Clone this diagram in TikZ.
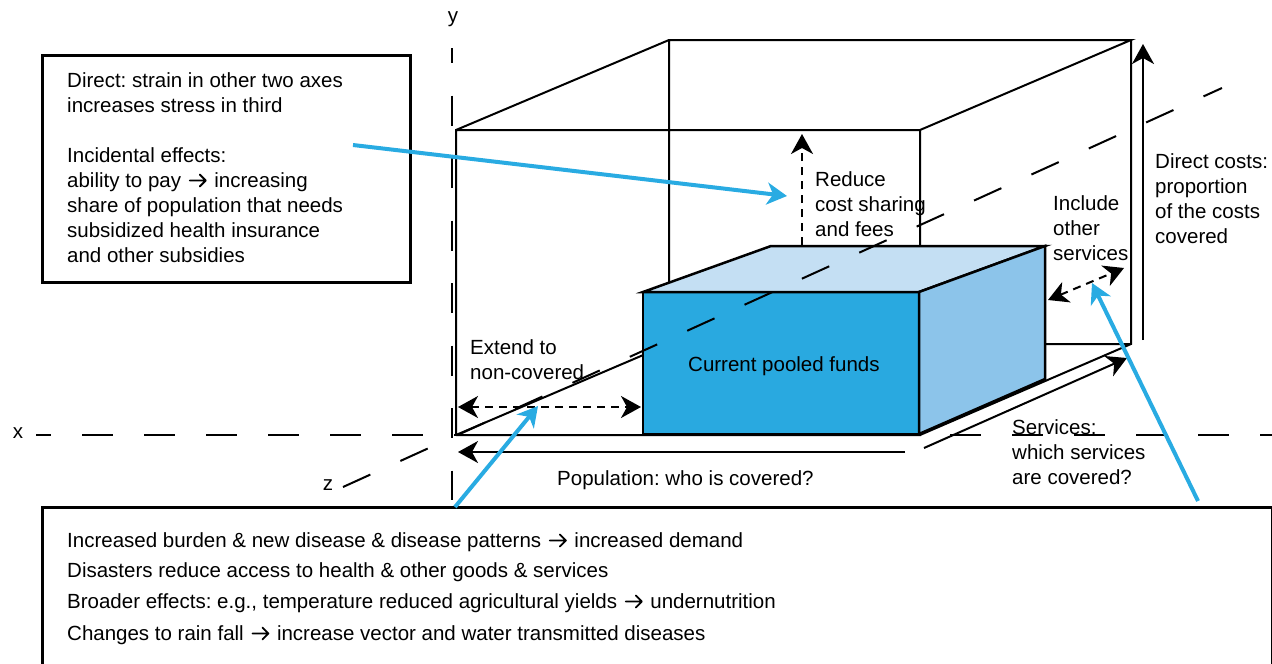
\documentclass[tikz,border=0pt]{standalone}
\usepackage{fontspec}
\setmainfont{Liberation Sans}
\usetikzlibrary{arrows.meta}
\definecolor{fundfront}{HTML}{29A9E0}
\definecolor{fundtop}{HTML}{C4DFF3}
\definecolor{fundside}{HTML}{8CC4EA}
\definecolor{callout}{HTML}{29ABE2}
\frenchspacing
% open-headed arrow used inside the running text
\newcommand{\leadsarrow}{\hspace{2pt}\tikz[baseline=0pt, x=1pt, y=1pt]
  \draw[line width=1.8pt, line cap=round, line join=round]
  (0,6.5) -- (16,6.5) (10,0.5) -- (16,6.5) -- (10,12.5);\hspace{2pt}}
\begin{document}
\begin{tikzpicture}[x=1pt,y=-1pt,
  every node/.style={font=\fontsize{20.5}{25}\selectfont, inner sep=0pt},
  lbl/.style={anchor=base west},
  axlbl/.style={anchor=base},
  frame/.style={draw, line width=2pt},
  panel/.style={draw, line width=2.5pt},
  axisline/.style={line width=2pt, dash pattern=on 31pt off 31pt},
  head/.style={-{Stealth[length=20pt,width=22pt,inset=6pt]}},
  bothheads/.style={{Stealth[length=20pt,width=22pt,inset=6pt]}-{Stealth[length=20pt,width=22pt,inset=6pt]}},
  measure/.style={line width=2pt, head},
  change/.style={line width=2pt, dash pattern=on 8pt off 6pt},
  callarrow/.style={draw=callout, line width=4pt, head},
]
\path[use as bounding box] (0,0) rectangle (1272,664);
\clip (0,0) rectangle (1272,664);

% axes
\coordinate (xs) at (36,435);   \coordinate (xe) at (1272,435);
\coordinate (ys) at (452,48);   \coordinate (ye) at (452,500);
\coordinate (O) at (456,435);
\coordinate (zs) at (343,487);  \coordinate (ze) at (1222,88);
\draw[axisline, dash phase=16pt] (xs) -- (xe);
\draw[line width=2pt, dash pattern=on 30pt off 32.5pt, dash phase=15pt] (ys) -- (ye);
\node[axlbl] (xlabel) at (18,438) {x};
\node[axlbl] (ylabel) at (453,22) {y};
\node[axlbl] (zlabel) at (328,490) {z};

% outer wireframe box
\coordinate (FTL) at (456,130);
\coordinate (FTR) at (920,130);
\coordinate (FBR) at (920,435);
\coordinate (BTL) at (669,40);
\coordinate (BTR) at (1131,40);
\coordinate (BBR) at (1131,344);
\coordinate (BBL) at (669,344);
\draw[frame] (O) -- (FTL) -- (FTR) -- (FBR) -- (O)
  (FTL) -- (BTL) -- (BTR) -- (FTR)
  (BTR) -- (BBR) -- (FBR)
  (BBR) -- (BBL) -- (O)
  (BTL) -- (BBL);

% current pooled funds block
\coordinate (pA) at (643,292);
\coordinate (pB) at (919,292);
\coordinate (pC) at (919,434);
\coordinate (pD) at (643,434);
\coordinate (pE) at (771,246);
\coordinate (pF) at (1045,246);
\coordinate (pG) at (1045,379);
\filldraw[panel, fill=fundfront] (pA) -- (pB) -- (pC) -- (pD) -- cycle;
\filldraw[panel, fill=fundtop] (pA) -- (pE) -- (pF) -- (pB) -- cycle;
\filldraw[panel, fill=fundside] (pB) -- (pF) -- (pG) -- (pC) -- cycle;
\node[lbl] (funds) at (688,371) {Current pooled funds};

% z axis, drawn over the block
\draw[line width=2pt, dash pattern=on 30pt off 33pt] (zs) -- (ze);

% dimension arrows
\coordinate (popS) at (905,452);  \coordinate (popE) at (458,452);
\coordinate (srvS) at (924,448);  \coordinate (srvE) at (1127,358);
\coordinate (dcS) at (1143,340);  \coordinate (dcE) at (1143,44);
\draw[measure] (popS) -- (popE);
\draw[measure] (srvS) -- (srvE);
\draw[measure] (dcS) -- (dcE);

% expansion arrows
\coordinate (redS) at (802,245);  \coordinate (redE) at (802,134);
\coordinate (extS) at (458,407);  \coordinate (extE) at (641,407);
\coordinate (incS) at (1048,300); \coordinate (incE) at (1124,268);
\draw[change, head] (redS) -- (redE);
\draw[change, bothheads] (extS) -- (extE);
\draw[change, bothheads] (incS) -- (incE);

% labels
\foreach \t [count=\i] in {Reduce, cost sharing, and fees}
  \node[lbl] (reduce\i) at (815,{161+25*\i}) {\t};
\foreach \t [count=\i] in {Include, other, services}
  \node[lbl] (include\i) at (1053,{185+25*\i}) {\t};
\foreach \t [count=\i] in {Direct costs:, proportion, of the costs, covered}
  \node[lbl] (direct\i) at (1155,{143+25*\i}) {\t};
\foreach \t [count=\i] in {Extend to, non-covered}
  \node[lbl] (extend\i) at (470,{329+25*\i}) {\t};
\node[lbl] (population) at (557,485) {Population: who is covered?};
\foreach \t [count=\i] in {Services:, which services, are covered?}
  \node[lbl] (services\i) at (1012,{409+25*\i}) {\t};

% note box, upper left
\node[panel, anchor=north west, minimum width=368pt, minimum height=227pt] (notes) at (41,54) {};
\node[lbl] (note1) at (67,87) {Direct: strain in other two axes};
\node[lbl] (note2) at (67,112) {increases stress in third};
\node[lbl] (note3) at (67,162) {Incidental effects:};
\node[lbl] (note4) at (67,187) {ability to pay \leadsarrow{} increasing};
\node[lbl] (note5) at (67,212) {share of population that needs};
\node[lbl] (note6) at (67,237) {subsidized health insurance};
\node[lbl] (note7) at (67,262) {and other subsidies};

% impacts box, bottom
\node[panel, anchor=north west, minimum width=1230pt, minimum height=200pt] (impacts) at (41,506) {};
\node[lbl] (imp1) at (67,547) {Increased burden \& new disease \& disease patterns \leadsarrow{} increased demand};
\node[lbl] (imp2) at (67,577) {Disasters reduce access to health \& other goods \& services};
\node[lbl] (imp3) at (67,608) {Broader effects: e.g., temperature reduced agricultural yields \leadsarrow{} undernutrition};
\node[lbl] (imp4) at (67,640) {Changes to rain fall \leadsarrow{} increase vector and water transmitted diseases};

% callout arrows
\coordinate (c1S) at (353,145);  \coordinate (c1E) at (787,196);
\coordinate (c2S) at (455,507);  \coordinate (c2E) at (538,406);
\coordinate (c3S) at (1198,501); \coordinate (c3E) at (1092,283);
\draw[callarrow] (c1S) -- (c1E);
\draw[callarrow] (c2S) -- (c2E);
\draw[callarrow] (c3S) -- (c3E);
\end{tikzpicture}
\end{document}
